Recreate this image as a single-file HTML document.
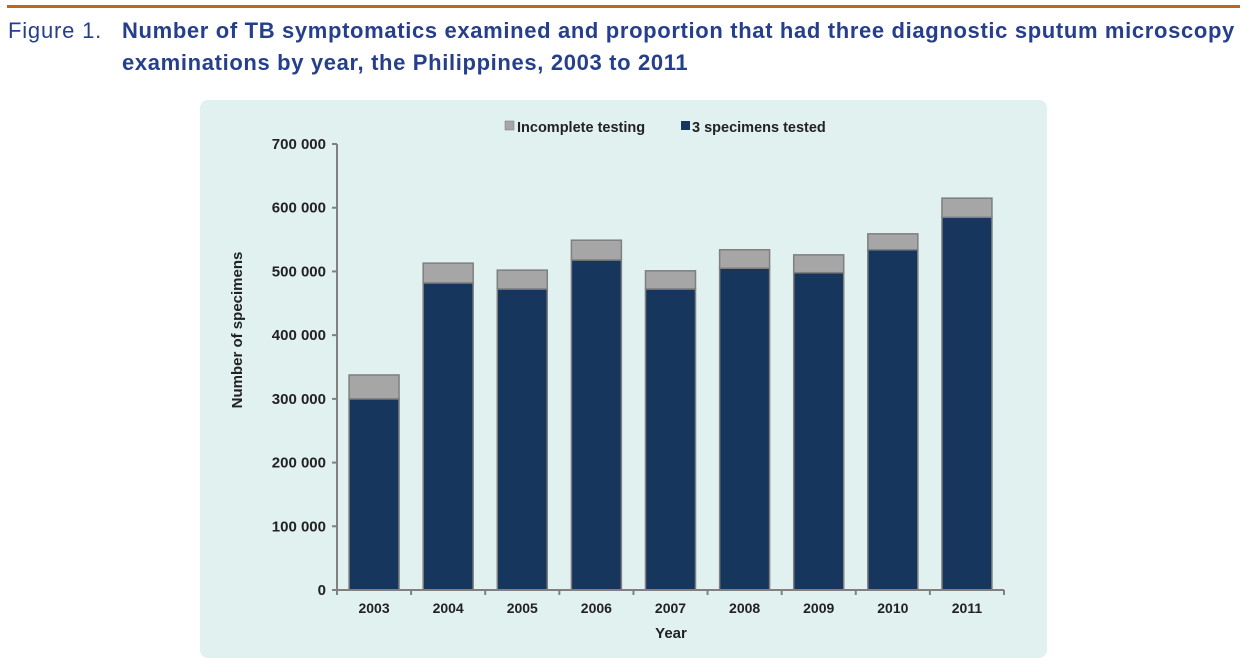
<!DOCTYPE html>
<html><head><meta charset="utf-8"><style>
body{margin:0;width:1250px;height:668px;background:#fff;overflow:hidden;position:relative;font-family:"Liberation Sans",sans-serif}
.rule{position:absolute;left:7px;top:5px;width:1233px;height:3px;background:#c0651c}
.t{position:absolute;color:#253f8c;font-size:22px;line-height:32px;font-family:"Liberation Sans",sans-serif}
.panel{position:absolute;left:200px;top:100px;width:847px;height:558px;background:#e1f1f0;border-radius:8px}
svg{position:absolute;left:0;top:0}
</style></head><body>
<div class="rule"></div>
<div class="t" style="left:8px;top:15px;letter-spacing:0.8px">Figure 1.</div>
<div class="t" style="left:122px;top:15px;font-weight:bold;letter-spacing:0.65px">Number of TB symptomatics examined and proportion that had three diagnostic sputum microscopy<br>examinations by year, the Philippines, 2003 to 2011</div>
<div class="panel"></div>
<svg width="1250" height="668" id="c" font-family="Liberation Sans, sans-serif">
<g id="legend">
<rect x="505" y="121" width="9" height="9" fill="#a6a6a6" stroke="#777" stroke-width="0.5"/>
<text x="517" y="132" font-size="14.5" font-weight="bold" fill="#222">Incomplete testing</text>
<rect x="681" y="121" width="9" height="9" fill="#17365d"/>
<text x="692" y="132" font-size="14.5" font-weight="bold" fill="#222">3 specimens tested</text>
</g>
<text transform="translate(242,330) rotate(-90)" text-anchor="middle" font-size="15" font-weight="bold" fill="#222">Number of specimens</text>
<text x="671" y="638" text-anchor="middle" font-size="15" font-weight="bold" fill="#222">Year</text>
</svg>
<script>
const years=["2003","2004","2005","2006","2007","2008","2009","2010","2011"];
const complete=[300000,482000,472500,518000,472500,505000,498000,534000,585000];
const incomplete=[37500,31000,29500,31000,28500,29000,28000,25000,30000];
const yTicks=[0,100000,200000,300000,400000,500000,600000,700000];
const yTickLabels=["0","100 000","200 000","300 000","400 000","500 000","600 000","700 000"];
const svg=document.getElementById('c'),NS="http://www.w3.org/2000/svg";
const x0=337,x1=1004,y0=590,yTop=144,yMax=700000;
const y=v=>y0-(v/yMax)*(y0-yTop);
const bw=(x1-x0)/years.length;
function mk(t,a){const e=document.createElementNS(NS,t);for(const k in a)e.setAttribute(k,a[k]);svg.appendChild(e);return e;}
yTicks.forEach((v,i)=>{
 const l=mk('line',{x1:x0-5,x2:x0,y1:y(v),y2:y(v),stroke:'#808080','stroke-width':2});
 
 
 const t=mk('text',{x:x0-11,y:y(v)+5,'text-anchor':'end','font-size':15,'font-weight':'bold',fill:'#222'});
 t.textContent=yTickLabels[i];
 
 
});
years.forEach((yr,i)=>{
 const cx=x0+bw*(i+0.5);
 const b=mk('rect',{x:cx-25,y:y(complete[i]),width:50,height:y0-y(complete[i]),fill:'#17365d',stroke:'#7f7f7f','stroke-width':1.5});
 
 
 const g=mk('rect',{x:cx-25,y:y(complete[i]+incomplete[i]),width:50,height:y(complete[i])-y(complete[i]+incomplete[i]),fill:'#a6a6a6',stroke:'#7f7f7f','stroke-width':1.5});
 
 
 const t=mk('text',{x:cx,y:613,'text-anchor':'middle','font-size':14,'font-weight':'bold',fill:'#222'});
 t.textContent=yr;
 
 
});
for(let i=0;i<=years.length;i++){
 const tx=x0+bw*i;
 const l=mk('line',{x1:tx,x2:tx,y1:y0,y2:y0+5,stroke:'#808080','stroke-width':2});
 
 
}
const ya=mk('line',{x1:x0,x2:x0,y1:yTop,y2:y0,stroke:'#808080','stroke-width':2});


const xa=mk('line',{x1:x0-5,x2:x1,y1:y0,y2:y0,stroke:'#808080','stroke-width':2});


</script>
</body></html>
